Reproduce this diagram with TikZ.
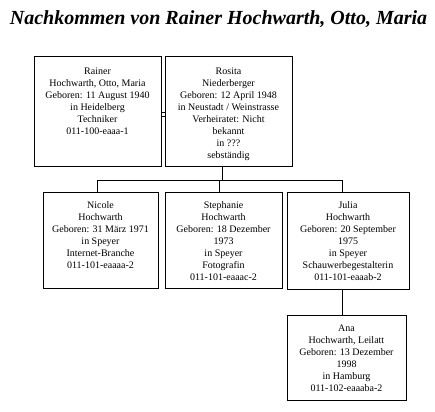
\documentclass[tikz,border=0pt]{standalone}
\usepackage{fontspec}
\setmainfont{Liberation Serif}
\usetikzlibrary{positioning}
\tikzset{
  person/.style={draw, line width=1pt, inner sep=0pt},
  persontext/.style={align=center, inner sep=0pt, font=\fontsize{10}{12}\selectfont},
  link/.style={line width=1pt},
}
\begin{document}
\begin{tikzpicture}[x=1pt, y=-1pt]
  \useasboundingbox (0,0) rectangle (435,411);

  \node[anchor=base, font=\fontsize{20}{24}\selectfont\bfseries\itshape] (title) at (218.5,25)
    {Nachkommen von Rainer Hochwarth, Otto, Maria};

  % parents
  \node[person, minimum width=127, minimum height=110] (rainer) at (97.5,112) {};
  \node[persontext, below=11pt of rainer.north] (rainertext)
    {Rainer\\Hochwarth, Otto, Maria\\Geboren: 11 August 1940\\in Heidelberg\\Techniker\\011-100-eaaa-1};
  \node[person, minimum width=127, minimum height=110] (rosita) at (228.5,112) {};
  \node[persontext, below=11pt of rosita.north] (ositatext)
    {Rosita\\Niederberger\\Geboren: 12 April 1948\\in Neustadt / Weinstrasse\\Verheiratet: Nicht\\bekannt\\in ???\\sebständig};

  % children
  \node[person, minimum width=115, minimum height=95] (nicole) at (100.5,240.5) {};
  \node[persontext, below=9pt of nicole.north] (nicoletext)
    {Nicole\\Hochwarth\\Geboren: 31 März 1971\\in Speyer\\Internet-Branche\\011-101-eaaaa-2};
  \node[person, minimum width=117, minimum height=95] (stephanie) at (223.5,240.5) {};
  \node[persontext, below=9pt of stephanie.north] (stephanietext)
    {Stephanie\\Hochwarth\\Geboren: 18 Dezember\\1973\\in Speyer\\Fotografin\\011-101-eaaac-2};
  \node[person, minimum width=122, minimum height=96] (julia) at (348,241) {};
  \node[persontext, below=9pt of julia.north] (juliatext)
    {Julia\\Hochwarth\\Geboren: 20 September\\1975\\in Speyer\\Schauwerbegestalterin\\011-101-eaaab-2};

  % grandchild
  \node[person, minimum width=119, minimum height=85] (ana) at (346.5,357.5) {};
  \node[persontext, below=10pt of ana.north] (anatext)
    {Ana\\Hochwarth, Leilatt\\Geboren: 13 Dezember\\1998\\in Hamburg\\011-102-eaaaba-2};

  % connectors
  \draw[link, double, double distance=3pt] ([yshift=-3pt]rainer.east) -- ([yshift=-3pt]rainer.east -| rosita.west);
  \coordinate (bus) at (0,181);
  \draw[link] ([xshift=-6pt]rosita.south) -- ([xshift=-6pt]rosita.south |- bus);
  \draw[link] ([xshift=-3pt]nicole.north) -- ([xshift=-3pt]nicole.north |- bus) -| ([xshift=-6pt]julia.north);
  \draw[link] ([xshift=-4pt]stephanie.north) -- ([xshift=-4pt]stephanie.north |- bus);
  \draw[link] ([xshift=-6pt]julia.south) -- ([xshift=-6pt]julia.south |- ana.north);
\end{tikzpicture}
\end{document}
